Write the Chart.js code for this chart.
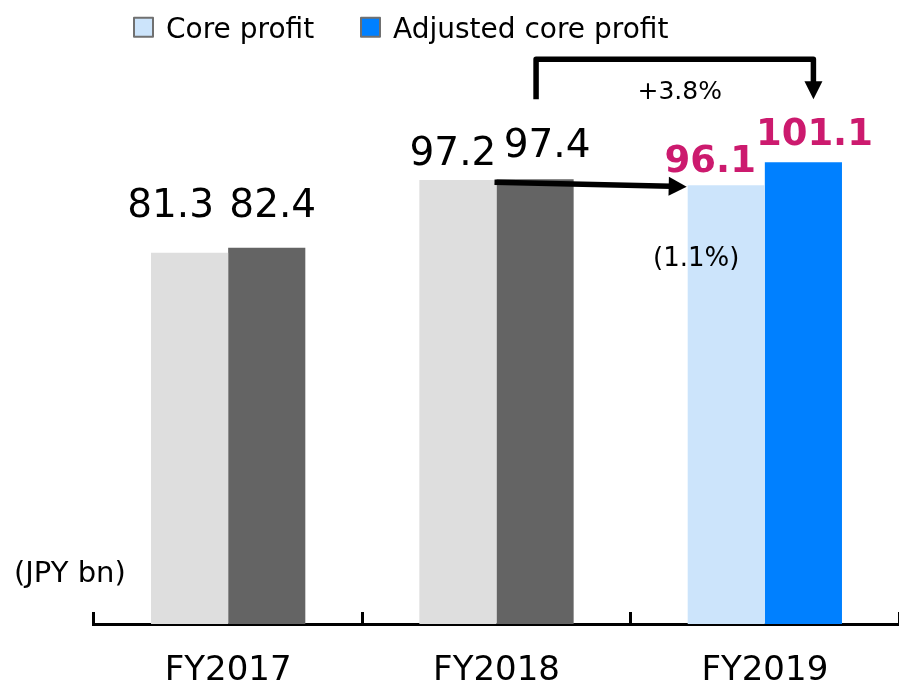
<!DOCTYPE html>
<html>
<head>
<meta charset="utf-8">
<script src="https://cdn.jsdelivr.net/npm/chart.js@4"></script>
<style>
  html, body { margin: 0; padding: 0; background: #ffffff; }
  #wrap { width: 899px; height: 687px; }
</style>
</head>
<body>
<div id="wrap"><canvas id="c" width="899" height="687"></canvas></div>
<script>
const categories = ['FY2017', 'FY2018', 'FY2019'];
const seriesNames = ['Core profit', 'Adjusted core profit'];
const coreProfit = [81.3, 97.2, 96.1];
const adjustedCoreProfit = [82.4, 97.4, 101.1];
const growthLabel = '+3.8%';
const declineLabel = '(1.1%)';
const unitLabel = '(JPY bn)';

const FONT = "'DejaVu Sans', Verdana, sans-serif";
Chart.defaults.font.family = FONT;

const annotations = {
  id: 'annotations',
  afterDatasetsDraw(chart) {
    const ctx = chart.ctx;
    const m0 = chart.getDatasetMeta(0).data;
    const m1 = chart.getDatasetMeta(1).data;
    const metas = [m0, m1];
    const series = [coreProfit, adjustedCoreProfit];
    // [dx, dy above bar top] for each value label
    const off = [[[-19, 36], [-5, 15], [-16, 13]], [[6, 31], [12, 22], [11, 17]]];
    ctx.save();
    ctx.textBaseline = 'alphabetic';
    ctx.textAlign = 'center';
    for (let d = 0; d < 2; d++) {
      for (let i = 0; i < categories.length; i++) {
        const el = metas[d][i];
        const hi = i === categories.length - 1;
        ctx.font = hi ? 'bold 37px ' + FONT : '39px ' + FONT;
        ctx.fillStyle = hi ? '#cc1a6e' : '#000000';
        ctx.fillText(series[d][i].toFixed(1), el.x + off[d][i][0], el.y - off[d][i][1]);
      }
    }

    ctx.strokeStyle = '#000000';
    ctx.fillStyle = '#000000';
    ctx.lineWidth = 5.5;
    ctx.lineJoin = 'round';

    // bracket arrow between adjusted bars
    const a = m1[1], b = m1[2];
    const x1 = a.x + 1, x2 = b.x + 10;
    const yTop = b.y - 103, yLeg = b.y - 63;
    ctx.beginPath();
    ctx.moveTo(x1, yLeg);
    ctx.lineTo(x1, yTop);
    ctx.lineTo(x2, yTop);
    ctx.lineTo(x2, yLeg - 16);
    ctx.stroke();
    ctx.beginPath();
    ctx.moveTo(x2 - 9, yLeg - 18);
    ctx.lineTo(x2 + 9, yLeg - 18);
    ctx.lineTo(x2, yLeg);
    ctx.closePath();
    ctx.fill();

    // straight arrow from FY2018 adjusted to FY2019 core
    const sx = a.x - a.width / 2 - 2, sy = a.y + 3;
    const c = m0[2];
    const tx = c.x - c.width / 2 - 1, ty = c.y + 1.5;
    const ang = Math.atan2(ty - sy, tx - sx);
    const bx = tx - 18 * Math.cos(ang), by = ty - 18 * Math.sin(ang);
    ctx.beginPath();
    ctx.moveTo(sx, sy);
    ctx.lineTo(bx + 2 * Math.cos(ang), by + 2 * Math.sin(ang));
    ctx.stroke();
    ctx.beginPath();
    ctx.moveTo(bx - 9.5 * Math.sin(ang), by + 9.5 * Math.cos(ang));
    ctx.lineTo(bx + 9.5 * Math.sin(ang), by - 9.5 * Math.cos(ang));
    ctx.lineTo(tx, ty);
    ctx.closePath();
    ctx.fill();

    // percentage texts
    ctx.font = '25px ' + FONT;
    ctx.fillStyle = '#000000';
    ctx.textAlign = 'center';
    ctx.fillText(growthLabel, (x1 + x2) / 2 + 5, yLeg);
    ctx.font = '26px ' + FONT;
    ctx.fillText(declineLabel, c.x - 30, c.y + 81);

    // unit label
    ctx.font = '29px ' + FONT;
    ctx.textAlign = 'left';
    ctx.fillText(unitLabel, 14, 582);

    // legend
    const legendColors = ['#cce4fb', '#0080ff'];
    const legendX = [134, 361];
    ctx.font = '28px ' + FONT;
    ctx.textAlign = 'left';
    for (let k = 0; k < seriesNames.length; k++) {
      ctx.fillStyle = legendColors[k];
      ctx.fillRect(legendX[k], 17.7, 19, 19);
      ctx.lineWidth = 2;
      ctx.strokeStyle = '#707070';
      ctx.strokeRect(legendX[k], 17.7, 19, 19);
      ctx.fillStyle = '#000000';
      ctx.fillText(seriesNames[k], legendX[k] + 32, 37.5);
    }
    ctx.restore();
  }
};

new Chart(document.getElementById('c'), {
  type: 'bar',
  data: {
    labels: categories,
    datasets: [
      {
        label: seriesNames[0],
        data: coreProfit,
        backgroundColor: ['#dedede', '#dedede', '#cce4fb'],
        borderWidth: 0,
        barPercentage: 1.0,
        categoryPercentage: 0.575
      },
      {
        label: seriesNames[1],
        data: adjustedCoreProfit,
        backgroundColor: ['#646464', '#646464', '#0080ff'],
        borderWidth: 0,
        barPercentage: 1.0,
        categoryPercentage: 0.575
      }
    ]
  },
  options: {
    responsive: false,
    animation: false,
    devicePixelRatio: 1,
    layout: { padding: { top: 76, left: 94, right: 0, bottom: 0 } },
    plugins: {
      legend: { display: false },
      tooltip: { enabled: false },
      title: { display: false }
    },
    scales: {
      x: {
        offset: true,
        grid: {
          display: true,
          offset: true,
          drawOnChartArea: false,
          drawTicks: true,
          tickLength: -12,
          color: '#000000',
          lineWidth: 3
        },
        border: { display: true, color: '#000000', width: 3 },
        ticks: {
          color: '#000000',
          font: { size: 34, family: FONT },
          padding: 39,
          maxRotation: 0
        },
        afterFit(axis) { axis.height = 63; }
      },
      y: {
        display: false,
        min: 0,
        max: 120
      }
    }
  },
  plugins: [annotations]
});
</script>
</body>
</html>
